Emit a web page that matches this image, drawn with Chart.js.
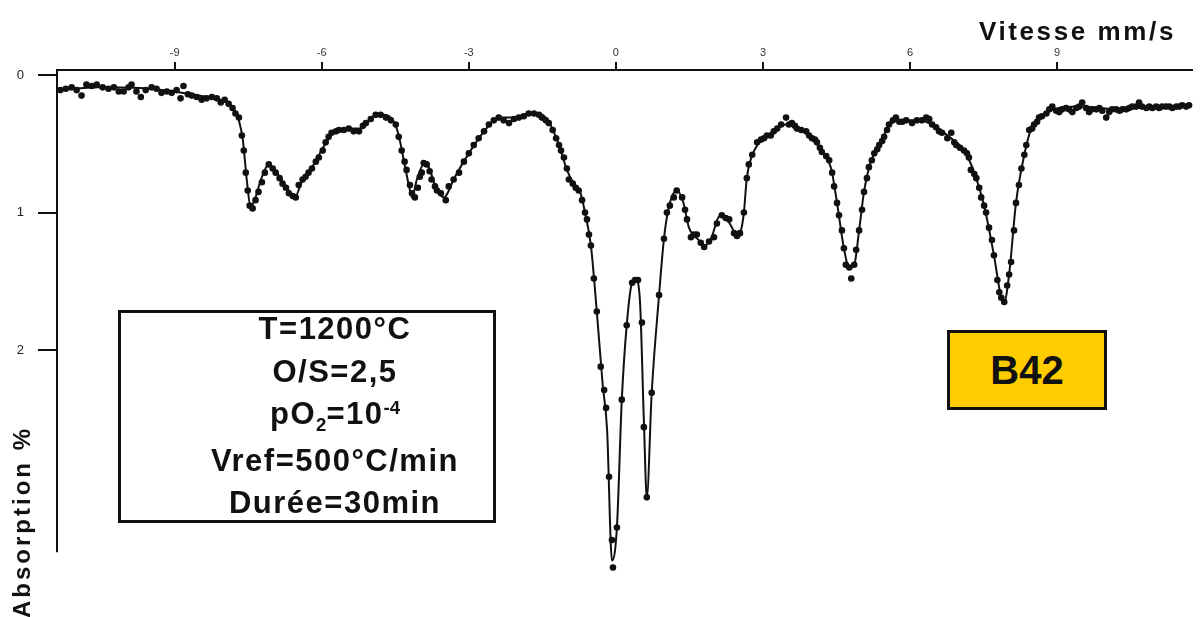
<!DOCTYPE html>
<html lang="fr">
<head>
    <meta charset="UTF-8">
    <title>Spectre Mössbauer B42</title>
    <script src="https://cdn.jsdelivr.net/npm/chart.js@4.4.1/dist/chart.umd.min.js"></script>
    <style>
        body { margin: 0; background: #fff; }
        #wrap { position: relative; width: 1202px; height: 617px; font-family: Arial, "Liberation Sans", sans-serif; color: #111; }
        #chart { position: absolute; left: 0; top: 0; }
        .txt { position: absolute; font-weight: bold; white-space: nowrap; }
        #vitesse { left: 979px; top: 18px; font-size: 26px; line-height: 26px; letter-spacing: 2.6px; }
        #absorption { left: 10px; top: 618px; font-size: 24px; line-height: 24px; letter-spacing: 3px;
                      transform-origin: left top; transform: rotate(-90deg); }
        #condBox { position: absolute; left: 118px; top: 310px; width: 378px; height: 213px;
                   border: 3.5px solid #111; box-sizing: border-box; background: #fff; }
        #condText { left: 135px; top: 308px; width: 400px; text-align: center; font-size: 31px;
                    line-height: 42.5px; letter-spacing: 1.5px; }
        .sub { position: relative; top: 0.35em; font-size: 0.6em; letter-spacing: 0; }
        .sup { position: relative; top: -0.55em; font-size: 0.6em; letter-spacing: 0; }
        #sample { position: absolute; left: 947px; top: 330px; width: 160px; height: 80px;
                  border: 3.5px solid #111; box-sizing: border-box; background: #ffcc00;
                  display: flex; align-items: center; justify-content: center;
                  font-weight: bold; font-size: 40px; line-height: 40px; }
    </style>
</head>
<body>
<div id="wrap">
    <canvas id="chart" width="1202" height="617"></canvas>
    <div class="txt" id="vitesse">Vitesse mm/s</div>
    <div class="txt" id="absorption">Absorption %</div>
    <div id="condBox"></div>
    <div class="txt" id="condText">T=1200°C<br>O/S=2,5<br>pO<span class="sub">2</span>=10<span class="sup">-4</span><br>Vref=500°C/min<br>Durée=30min</div>
    <div id="sample">B42</div>
</div>

<script>
    // measured points (velocity in mm/s, absorption in %)
    const velocity = [
        -11.33, -11.22, -11.10, -11.00, -10.90, -10.80, -10.69, -10.59, -10.47, -10.35,
        -10.24, -10.14, -10.04, -9.94, -9.88, -9.78, -9.69, -9.59, -9.47, -9.37,
        -9.27, -9.16, -9.06, -8.96, -8.88, -8.82, -8.73, -8.65, -8.55, -8.45,
        -8.35, -8.24, -8.14, -8.06, -7.98, -7.90, -7.82, -7.76, -7.69, -7.63,
        -7.59, -7.55, -7.51, -7.47, -7.41, -7.35, -7.29, -7.22, -7.16, -7.08,
        -7.00, -6.94, -6.86, -6.80, -6.73, -6.67, -6.59, -6.53, -6.47, -6.39,
        -6.33, -6.27, -6.20, -6.12, -6.06, -5.98, -5.92, -5.86, -5.80, -5.71,
        -5.65, -5.55, -5.45, -5.35, -5.24, -5.16, -5.10, -5.00, -4.90, -4.80,
        -4.69, -4.59, -4.49, -4.43, -4.37, -4.31, -4.27, -4.20, -4.16, -4.10,
        -4.04, -4.00, -3.96, -3.92, -3.86, -3.80, -3.76, -3.69, -3.65, -3.57,
        -3.47, -3.41, -3.31, -3.20, -3.10, -3.00, -2.90, -2.80, -2.69, -2.59,
        -2.49, -2.39, -2.29, -2.18, -2.08, -1.98, -1.88, -1.78, -1.67, -1.57,
        -1.51, -1.43, -1.37, -1.29, -1.22, -1.16, -1.12, -1.06, -1.00, -0.96,
        -0.88, -0.82, -0.76, -0.69, -0.63, -0.59, -0.55, -0.51, -0.45, -0.39,
        -0.31, -0.24, -0.20, -0.14, -0.08, -0.06, 0.02, 0.12, 0.22, 0.33,
        0.39, 0.45, 0.53, 0.57, 0.63, 0.73, 0.88, 0.98, 1.04, 1.10,
        1.18, 1.24, 1.35, 1.41, 1.45, 1.53, 1.59, 1.65, 1.73, 1.80,
        1.90, 2.00, 2.06, 2.16, 2.24, 2.31, 2.41, 2.47, 2.53, 2.61,
        2.67, 2.71, 2.78, 2.88, 2.96, 3.02, 3.08, 3.16, 3.22, 3.29,
        3.37, 3.47, 3.53, 3.59, 3.65, 3.69, 3.78, 3.88, 3.94, 4.00,
        4.06, 4.10, 4.16, 4.20, 4.29, 4.35, 4.41, 4.45, 4.51, 4.55,
        4.61, 4.65, 4.69, 4.76, 4.80, 4.86, 4.90, 4.96, 5.02, 5.06,
        5.12, 5.16, 5.22, 5.27, 5.33, 5.37, 5.43, 5.47, 5.53, 5.57,
        5.65, 5.71, 5.78, 5.84, 5.92, 6.04, 6.14, 6.24, 6.33, 6.39,
        6.45, 6.53, 6.59, 6.65, 6.76, 6.84, 6.90, 6.94, 7.02, 7.10,
        7.16, 7.20, 7.24, 7.31, 7.35, 7.41, 7.45, 7.51, 7.55, 7.61,
        7.67, 7.71, 7.78, 7.82, 7.86, 7.92, 7.98, 8.02, 8.06, 8.12,
        8.16, 8.22, 8.27, 8.33, 8.37, 8.43, 8.49, 8.53, 8.59, 8.63,
        8.69, 8.78, 8.84, 8.90, 8.98, 9.04, 9.10, 9.18, 9.24, 9.31,
        9.39, 9.45, 9.51, 9.59, 9.65, 9.71, 9.80, 9.86, 9.92, 10.00,
        10.06, 10.12, 10.20, 10.27, 10.33, 10.41, 10.47, 10.53, 10.61, 10.67,
        10.73, 10.82, 10.88, 10.94, 11.02, 11.08, 11.14, 11.22, 11.29, 11.35,
        11.43, 11.49, 11.55, 11.63, 11.69
    ];
    const absorption = [
        0.11, 0.10, 0.09, 0.11, 0.15, 0.07, 0.08, 0.07, 0.09, 0.10,
        0.09, 0.12, 0.12, 0.09, 0.07, 0.12, 0.16, 0.11, 0.09, 0.10,
        0.13, 0.12, 0.13, 0.11, 0.17, 0.08, 0.14, 0.15, 0.16, 0.18,
        0.17, 0.16, 0.17, 0.20, 0.18, 0.21, 0.24, 0.28, 0.31, 0.44,
        0.55, 0.71, 0.84, 0.95, 0.97, 0.91, 0.85, 0.78, 0.71, 0.65,
        0.68, 0.71, 0.75, 0.79, 0.82, 0.86, 0.88, 0.89, 0.80, 0.76,
        0.74, 0.71, 0.68, 0.63, 0.60, 0.55, 0.49, 0.45, 0.42, 0.41,
        0.40, 0.40, 0.39, 0.41, 0.41, 0.37, 0.35, 0.32, 0.29, 0.29,
        0.31, 0.33, 0.36, 0.45, 0.55, 0.63, 0.69, 0.80, 0.86, 0.89,
        0.82, 0.74, 0.71, 0.64, 0.65, 0.70, 0.76, 0.81, 0.84, 0.86,
        0.91, 0.81, 0.76, 0.71, 0.63, 0.57, 0.51, 0.46, 0.41, 0.36,
        0.33, 0.31, 0.33, 0.35, 0.32, 0.31, 0.30, 0.28, 0.28, 0.29,
        0.31, 0.33, 0.35, 0.40, 0.46, 0.51, 0.55, 0.60, 0.68, 0.76,
        0.79, 0.82, 0.84, 0.91, 1.00, 1.05, 1.16, 1.24, 1.48, 1.72,
        2.12, 2.29, 2.42, 2.92, 3.38, 3.58, 3.29, 2.36, 1.82, 1.51,
        1.49, 1.49, 1.80, 2.56, 3.07, 2.31, 1.60, 1.19, 1.00, 0.95,
        0.89, 0.84, 0.89, 0.98, 1.05, 1.18, 1.16, 1.16, 1.22, 1.25,
        1.21, 1.18, 1.08, 1.02, 1.04, 1.05, 1.15, 1.17, 1.15, 1.00,
        0.75, 0.65, 0.58, 0.49, 0.47, 0.46, 0.44, 0.44, 0.41, 0.39,
        0.36, 0.31, 0.36, 0.35, 0.37, 0.39, 0.40, 0.41, 0.44, 0.46,
        0.47, 0.49, 0.53, 0.56, 0.59, 0.62, 0.71, 0.81, 0.93, 1.02,
        1.13, 1.26, 1.38, 1.40, 1.48, 1.38, 1.27, 1.13, 0.98, 0.85,
        0.75, 0.67, 0.62, 0.57, 0.54, 0.51, 0.48, 0.45, 0.40, 0.36,
        0.33, 0.31, 0.34, 0.34, 0.33, 0.35, 0.33, 0.33, 0.31, 0.32,
        0.36, 0.38, 0.41, 0.42, 0.46, 0.42, 0.49, 0.51, 0.53, 0.55,
        0.57, 0.60, 0.69, 0.72, 0.75, 0.82, 0.89, 0.95, 1.00, 1.11,
        1.20, 1.31, 1.49, 1.58, 1.62, 1.65, 1.53, 1.45, 1.36, 1.13,
        0.93, 0.80, 0.68, 0.58, 0.51, 0.40, 0.39, 0.36, 0.34, 0.31,
        0.30, 0.28, 0.25, 0.23, 0.26, 0.27, 0.25, 0.24, 0.25, 0.27,
        0.24, 0.23, 0.20, 0.24, 0.27, 0.25, 0.25, 0.24, 0.26, 0.31,
        0.27, 0.25, 0.25, 0.26, 0.25, 0.25, 0.24, 0.23, 0.23, 0.20,
        0.23, 0.24, 0.23, 0.24, 0.23, 0.24, 0.23, 0.23, 0.23, 0.24,
        0.23, 0.23, 0.22, 0.23, 0.22
    ];

    // fitted curve
    const fitVelocity = [
        -11.37, -10.55, -9.53, -8.51, -8.00, -7.80, -7.69, -7.61, -7.53, -7.45,
        -7.37, -7.24, -7.08, -6.92, -6.67, -6.55, -6.41, -6.16, -5.96, -5.76,
        -5.45, -5.20, -4.94, -4.73, -4.53, -4.43, -4.31, -4.20, -4.16, -4.06,
        -3.92, -3.82, -3.67, -3.51, -3.45, -3.31, -3.00, -2.69, -2.39, -2.08,
        -1.78, -1.57, -1.37, -1.16, -1.00, -0.86, -0.73, -0.63, -0.51, -0.39,
        -0.27, -0.18, -0.08, 0.02, 0.12, 0.22, 0.33, 0.41, 0.49, 0.57,
        0.63, 0.73, 0.88, 0.98, 1.08, 1.24, 1.37, 1.49, 1.69, 1.80,
        1.94, 2.10, 2.18, 2.37, 2.47, 2.55, 2.61, 2.67, 2.82, 3.02,
        3.22, 3.47, 3.73, 4.04, 4.24, 4.39, 4.51, 4.65, 4.76, 4.86,
        4.96, 5.06, 5.20, 5.37, 5.57, 5.78, 6.18, 6.49, 6.80, 7.10,
        7.31, 7.51, 7.71, 7.86, 7.92, 8.02, 8.16, 8.33, 8.47, 8.63,
        8.94, 9.45, 10.27, 11.08, 11.69
    ];
    const fitAbsorption = [
        0.11, 0.09, 0.10, 0.15, 0.19, 0.24, 0.33, 0.47, 0.76, 0.96,
        0.91, 0.76, 0.65, 0.71, 0.84, 0.89, 0.78, 0.65, 0.52, 0.42,
        0.39, 0.39, 0.30, 0.29, 0.34, 0.44, 0.65, 0.84, 0.89, 0.76,
        0.65, 0.67, 0.82, 0.89, 0.87, 0.76, 0.57, 0.41, 0.31, 0.31,
        0.28, 0.28, 0.34, 0.51, 0.69, 0.79, 0.85, 1.00, 1.24, 1.72,
        2.25, 2.58, 3.53, 3.29, 2.36, 1.82, 1.51, 1.49, 1.64, 2.51,
        3.07, 2.31, 1.60, 1.19, 0.96, 0.84, 0.92, 1.11, 1.20, 1.24,
        1.19, 1.03, 1.02, 1.11, 1.18, 1.13, 1.00, 0.75, 0.55, 0.46,
        0.41, 0.36, 0.39, 0.47, 0.57, 0.68, 0.93, 1.26, 1.40, 1.38,
        1.13, 0.85, 0.63, 0.51, 0.37, 0.33, 0.33, 0.37, 0.45, 0.55,
        0.71, 0.95, 1.31, 1.62, 1.65, 1.45, 0.93, 0.58, 0.39, 0.31,
        0.25, 0.23, 0.25, 0.23, 0.23
    ];

    const velocityTicks   = [-9, -6, -3, 0, 3, 6, 9];
    const absorptionTicks = [0, 1, 2];
    const absorptionAxisEnd = 3.47;   // the drawn left axis stops here, the deepest point goes below it

    const ink = '#111';
    Chart.defaults.font.family = 'Arial, "Liberation Sans", sans-serif';

    const points  = velocity.map((v, i) => ({ x: v, y: absorption[i] }));
    const fitLine = fitVelocity.map((v, i) => ({ x: v, y: fitAbsorption[i] }));

    // left axis line, shorter than the plot area
    const leftAxisLine = {
        id: 'leftAxisLine',
        afterDraw(chart) {
            const { ctx, chartArea, scales } = chart;
            ctx.save();
            ctx.strokeStyle = ink;
            ctx.lineWidth = 2;
            ctx.beginPath();
            ctx.moveTo(chartArea.left, chartArea.top);
            ctx.lineTo(chartArea.left, scales.y.getPixelForValue(absorptionAxisEnd));
            ctx.stroke();
            ctx.restore();
        }
    };

    new Chart(document.getElementById('chart').getContext('2d'), {
        type: 'scatter',
        data: {
            datasets: [
                {
                    label: 'fit',
                    data: fitLine,
                    showLine: true,
                    borderColor: ink,
                    borderWidth: 2,
                    pointRadius: 0,
                    cubicInterpolationMode: 'monotone',
                    clip: false
                },
                {
                    label: 'mesure',
                    data: points,
                    pointRadius: 3.3,
                    pointBackgroundColor: ink,
                    pointBorderWidth: 0,
                    clip: false
                }
            ]
        },
        options: {
            responsive: false,
            animation: false,
            devicePixelRatio: 1,
            layout: { padding: { left: 0, top: 0, right: 10, bottom: 44 } },
            plugins: { legend: { display: false }, tooltip: { enabled: false } },
            scales: {
                x: {
                    type: 'linear',
                    position: 'top',
                    min: -11.4,
                    max: 11.75,
                    afterBuildTicks: s => { s.ticks = velocityTicks.map(v => ({ value: v })); },
                    afterFit: s => { s.height = 70; },
                    grid: { drawOnChartArea: false, drawTicks: true, tickLength: 8, color: ink, lineWidth: 2 },
                    border: { display: true, color: ink, width: 2 },
                    ticks: { font: { size: 11 }, color: '#333', padding: 2, maxRotation: 0 }
                },
                y: {
                    type: 'linear',
                    reverse: true,
                    min: -0.036,
                    max: 3.62,
                    afterBuildTicks: s => { s.ticks = absorptionTicks.map(v => ({ value: v })); },
                    afterFit: s => { s.width = 57; },
                    grid: { drawOnChartArea: false, drawTicks: true, tickLength: 19, color: ink, lineWidth: 2 },
                    border: { display: false },
                    ticks: { font: { size: 13 }, color: '#222', padding: 14 }
                }
            }
        },
        plugins: [leftAxisLine]
    });
</script>
</body>
</html>
